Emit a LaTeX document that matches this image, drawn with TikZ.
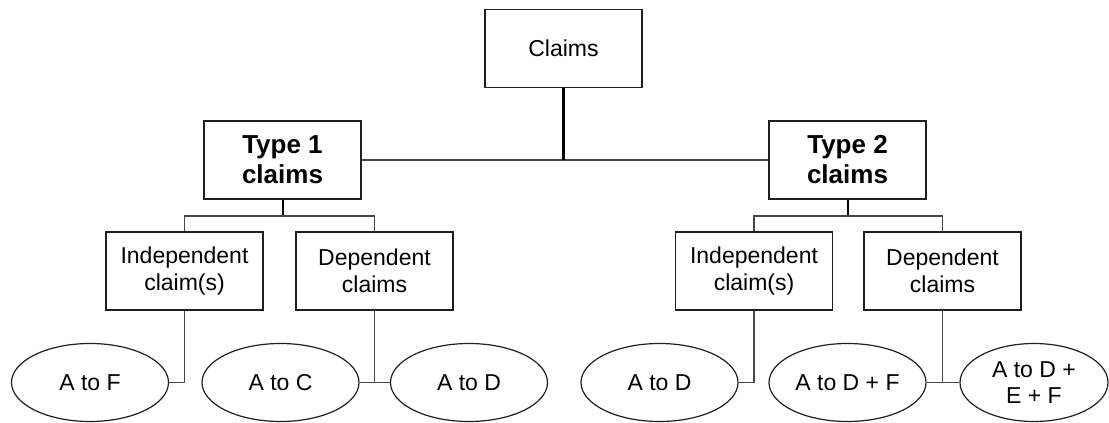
\documentclass[tikz,border=0pt]{standalone}
\usepackage{fontspec}
\setmainfont{Liberation Sans}
\usetikzlibrary{shapes.geometric}
\tikzset{
  box/.style={draw=black!88, line width=1.3pt, rectangle, minimum width=157pt, minimum height=78pt, inner sep=0pt, align=center, font=\fontsize{23}{26.5}\selectfont},
  typebox/.style={box, font=\fontsize{26}{30}\selectfont\bfseries},
  oval/.style={draw=black!88, line width=1.2pt, ellipse, minimum width=157pt, minimum height=78pt, inner sep=0pt, align=center, font=\fontsize{23}{26.5}\selectfont},
  conn/.style={draw=black!72, line width=2pt},
  thinconn/.style={draw=black!72, line width=1.7pt}
}
\begin{document}
\begin{tikzpicture}[x=1pt,y=-1pt]
\useasboundingbox (0,0) rectangle (1109,423);
\node[box] (claims) at (563.5,48.5) {Claims};
\node[typebox] (t1) at (282.5,160) {Type 1\\claims};
\node[typebox] (t2) at (847.5,160) {Type 2\\claims};
\node[box] (i1) at (184.5,271) {Independent\\claim(s)};
\node[box] (d1) at (374.5,271) {Dependent\\claims};
\node[box] (i2) at (754,271) {Independent\\claim(s)};
\node[box] (d2) at (942.5,271) {Dependent\\claims};
\node[oval] (e1) at (90,382.5) {A to F};
\node[oval] (e2) at (280.5,382.5) {A to C};
\node[oval] (e3) at (469,382.5) {A to D};
\node[oval] (e4) at (659.5,382.5) {A to D};
\node[oval] (e5) at (847.5,382.5) {A to D + F};
\node[oval, minimum width=148pt] (e6) at (1034,382.5) {A to D +\\E + F};
\coordinate (b1) at (282.5,216);
\coordinate (b2) at (847.5,216);
% top level
\draw[conn] (t1.east) -- (t2.west);
\draw[conn, draw=black, line width=2.4pt] (claims.south) -- (claims.south |- t1.east);
% type 1 branch
\draw[conn, draw=black] (t1.south) -- (b1);
\draw[thinconn] (i1.north) |- (b1) -| (d1.north);
% type 2 branch
\draw[conn, draw=black] (t2.south) -- (b2);
\draw[thinconn] (i2.north) |- (b2) -| (d2.north);
% leaves
\draw[thinconn] (i1.south) |- (e1.east);
\draw[thinconn] (d1.south) -- (d1.south |- e2.east);
\draw[thinconn] (e2.east) -- (e3.west);
\draw[thinconn] (i2.south) |- (e4.east);
\draw[thinconn] (d2.south) -- (d2.south |- e5.east);
\draw[thinconn] (e5.east) -- (e6.west);
\end{tikzpicture}
\end{document}
